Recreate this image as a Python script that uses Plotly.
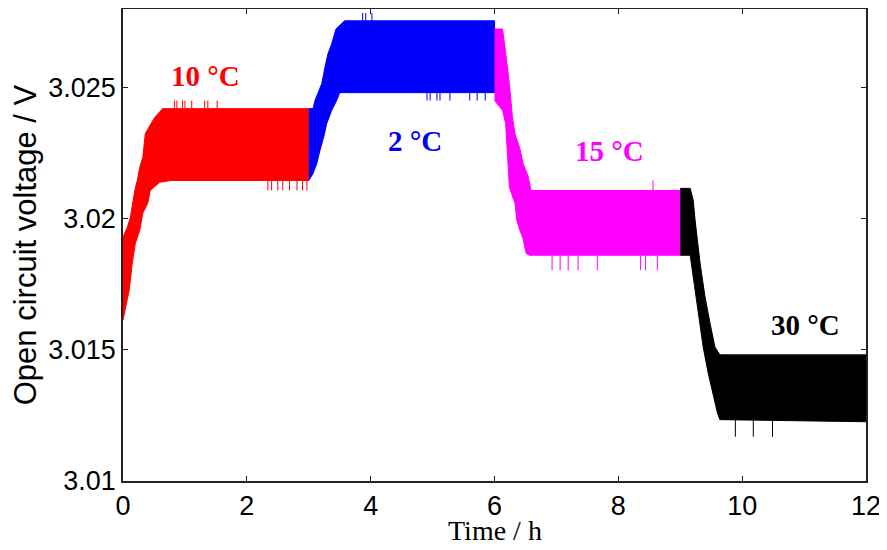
import plotly.graph_objects as go

# ---- data ----
# 10 °C segment (red)
red_t_up = [0.0, 0.07, 0.12, 0.19, 0.23, 0.27, 0.32, 0.36, 0.51, 0.64, 3.0]
red_v_up = [3.01930, 3.01968, 3.02006, 3.02108, 3.02146, 3.02196, 3.02234, 3.02325, 3.02386, 3.02420, 3.02420]
red_t_lo = [0.0, 0.04, 0.10, 0.15, 0.20, 0.27, 0.32, 0.40, 0.44, 0.59, 0.77, 3.0]
red_v_lo = [3.01614, 3.01652, 3.01728, 3.01831, 3.01907, 3.01956, 3.02021, 3.02059, 3.02108, 3.02139, 3.02146, 3.02146]
red_spk_up_t = [0.83, 0.87, 0.96, 1.00, 1.11, 1.32, 1.37, 1.52]
red_spk_up_v = 3.02451
red_spk_lo_t = [2.34, 2.40, 2.50, 2.58, 2.69, 2.81, 2.90, 2.97]
red_spk_lo_v = 3.02108

# 2 °C segment (blue)
blue_t_up = [3.0, 3.07, 3.10, 3.15, 3.21, 3.26, 3.31, 3.37, 3.44, 3.58, 6.0]
blue_v_up = [3.02420, 3.02420, 3.02451, 3.02481, 3.02515, 3.02576, 3.02629, 3.02667, 3.02724, 3.02755, 3.02755]
blue_t_lo = [3.0, 3.07, 3.13, 3.18, 3.24, 3.29, 3.37, 3.45, 3.50, 6.0]
blue_v_lo = [3.02146, 3.02173, 3.02211, 3.02260, 3.02310, 3.02363, 3.02413, 3.02451, 3.02481, 3.02481]
blue_spk_up_t = [3.87, 3.92, 4.02]
blue_spk_up_v = 3.02785
blue_spk_lo_t = [4.91, 4.96, 5.07, 5.12, 5.28, 5.60, 5.72, 5.85]
blue_spk_lo_v = 3.02451

# 15 °C segment (magenta)
mag_t_up = [6.0, 6.13, 6.18, 6.21, 6.24, 6.29, 6.33, 6.41, 6.46, 6.54, 6.59, 9.0]
mag_v_up = [3.02724, 3.02724, 3.02633, 3.02572, 3.02515, 3.02386, 3.02325, 3.02268, 3.02211, 3.02165, 3.02108, 3.02108]
mag_t_lo = [6.0, 6.13, 6.18, 6.21, 6.24, 6.33, 6.36, 6.41, 6.46, 6.51, 6.56, 9.0]
mag_v_lo = [3.02451, 3.02413, 3.02363, 3.02249, 3.02120, 3.02059, 3.01994, 3.01956, 3.01926, 3.01869, 3.01861, 3.01861]
mag_spk_up_t = [8.56]
mag_spk_up_v = 3.02146
mag_spk_lo_t = [6.93, 7.06, 7.19, 7.35, 7.66, 8.36, 8.44, 8.63]
mag_spk_lo_v = 3.01804

# 30 °C segment (black)
blk_t_up = [9.0, 9.16, 9.21, 9.24, 9.32, 9.40, 9.48, 9.56, 9.64, 12.0]
blk_v_up = [3.02116, 3.02116, 3.02070, 3.01994, 3.01831, 3.01702, 3.01603, 3.01511, 3.01481, 3.01481]
blk_t_lo = [9.0, 9.16, 9.21, 9.29, 9.37, 9.45, 9.52, 9.60, 9.64, 12.0]
blk_v_lo = [3.01861, 3.01861, 3.01766, 3.01641, 3.01511, 3.01413, 3.01337, 3.01260, 3.01234, 3.01226]
blk_spk_up_t = []
blk_spk_up_v = 3.01492
blk_spk_lo_t = [9.89, 10.18, 10.49]
blk_spk_lo_v = 3.01169

labels = ["10 °C", "2 °C", "15 °C", "30 °C"]
label_t = [1.33, 4.71, 7.85, 11.02]
label_v = [3.02546, 3.02298, 3.02260, 3.01595]
colors = ["#FF0000", "#0000FF", "#FF00FF", "#000000"]

x_ticks = [0, 2, 4, 6, 8, 10, 12]
y_ticks = [3.01, 3.015, 3.02, 3.025]
x_title = "Time / h"
y_title = "Open circuit voltage / V"

segments = [
    (red_t_up, red_v_up, red_t_lo, red_v_lo, red_spk_up_t, red_spk_up_v, red_spk_lo_t, red_spk_lo_v),
    (blue_t_up, blue_v_up, blue_t_lo, blue_v_lo, blue_spk_up_t, blue_spk_up_v, blue_spk_lo_t, blue_spk_lo_v),
    (mag_t_up, mag_v_up, mag_t_lo, mag_v_lo, mag_spk_up_t, mag_spk_up_v, mag_spk_lo_t, mag_spk_lo_v),
    (blk_t_up, blk_v_up, blk_t_lo, blk_v_lo, blk_spk_up_t, blk_spk_up_v, blk_spk_lo_t, blk_spk_lo_v),
]


def interp(t, ts, vs):
    for i in range(len(ts) - 1):
        if ts[i] <= t <= ts[i + 1]:
            f = (t - ts[i]) / (ts[i + 1] - ts[i]) if ts[i + 1] != ts[i] else 0
            return vs[i] + f * (vs[i + 1] - vs[i])
    return vs[-1]


fig = go.Figure()
for (tu, vu, tl, vl, su_t, su_v, sl_t, sl_v), c in zip(segments, colors):
    fig.add_trace(go.Scatter(
        x=tu + tl[::-1], y=vu + vl[::-1], mode="lines", fill="toself",
        fillcolor=c, line=dict(color=c, width=1), hoverinfo="skip", showlegend=False))
    sx, sy = [], []
    for t in su_t:
        sx += [t, t, None]
        sy += [interp(t, tu, vu), su_v, None]
    for t in sl_t:
        sx += [t, t, None]
        sy += [interp(t, tl, vl), sl_v, None]
    if sx:
        fig.add_trace(go.Scatter(x=sx, y=sy, mode="lines", line=dict(color=c, width=1),
                                 hoverinfo="skip", showlegend=False))

for txt, t, v, c in zip(labels, label_t, label_v, colors):
    fig.add_annotation(x=t, y=v, text="<b>" + txt + "</b>", showarrow=False,
                       font=dict(family="Liberation Serif, Times New Roman, serif", size=29, color=c))

# x-axis title placed as a paper annotation for precise vertical position
fig.add_annotation(xref="paper", yref="paper", x=0.5, y=0, yanchor="middle", yshift=-49,
                   text=x_title, showarrow=False,
                   font=dict(family="Liberation Serif, Times New Roman, serif", size=28, color="#000000"))

axis_common = dict(showline=True, linecolor="#222222", linewidth=1.5, mirror="ticks",
                   ticks="inside", ticklen=5, tickcolor="#222222", tickwidth=1,
                   showgrid=False, zeroline=False,
                   tickfont=dict(family="Liberation Sans, Arial, sans-serif", size=27, color="#000000"))

# page body has an 8px margin; the figure is sized so that the plot lands where the reference has it
fig.update_layout(
    width=879, height=542,
    margin=dict(l=115, r=21, t=1, b=69),
    plot_bgcolor="white", paper_bgcolor="white",
    xaxis=dict(range=[0, 12], tickvals=x_ticks, ticktext=[str(v) for v in x_ticks],
               automargin=False, **axis_common),
    yaxis=dict(range=[3.01, 3.028], tickvals=y_ticks, ticktext=["3.01", "3.015", "3.02", "3.025"],
               title=dict(text=y_title, standoff=6,
                          font=dict(family="Liberation Sans, Arial, sans-serif", size=31, color="#000000")),
               automargin=False, **axis_common),
)

fig.write_html("out.html")
